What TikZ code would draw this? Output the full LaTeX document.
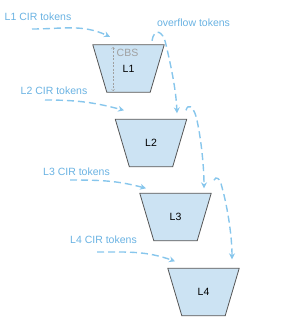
\documentclass[tikz,border=0pt]{standalone}
\usepackage{fontspec}
\setmainfont{Liberation Sans}
\usetikzlibrary{arrows.meta,calc}
\definecolor{arrowc}{RGB}{135,198,236}
\definecolor{textc}{RGB}{105,178,226}
\definecolor{fillc}{RGB}{204,227,243}
\definecolor{edgec}{RGB}{85,85,85}
\definecolor{cbsc}{RGB}{160,160,160}
\begin{document}
\begin{tikzpicture}[x=1pt,y=1pt,
  levelbox/.style={minimum width=71pt, minimum height=47pt, inner sep=0pt},
  trap/.style={draw=edgec, fill=fillc, line width=0.8pt, line join=miter},
  levtext/.style={font=\fontsize{10.5}{12}\selectfont, inner sep=0pt},
  lbl/.style={text=textc, font=\fontsize{10.5}{12}\selectfont, inner sep=0pt},
  flow/.style={draw=arrowc, line width=1.4pt, dash pattern=on 7pt off 4pt,
    -{Stealth[length=6pt,width=6pt,inset=2pt]}},
]
\useasboundingbox (0,0) rectangle (290,-329);

% level boxes (frames for the trapezoids)
\node[levelbox] (L1) at (128.5,-68.5) {};
\node[levelbox] (L2) at (151,-143) {};
\node[levelbox] (L3) at (175.5,-217) {};
\node[levelbox] (L4) at (203.5,-292) {};
\foreach \n in {L1,L2,L3,L4}{
  \draw[trap] (\n.north west) -- (\n.north east)
    -- ($(\n.south east)+(-14,0)$) -- ($(\n.south west)+(14,0)$) -- cycle;
}
\node[levtext] (L1t) at (L1.center) {L1};
\node[levtext] (L2t) at (L2.center) {L2};
\node[levtext] (L3t) at (L3.center) {L3};
\node[levtext] (L4t) at (L4.center) {L4};

% labels
\node[lbl] (c1) at (38,-17) {L1 CIR tokens};
\node[lbl] (c2) at (54,-91) {L2 CIR tokens};
\node[lbl] (c3) at (76.5,-172) {L3 CIR tokens};
\node[lbl] (c4) at (103.5,-240) {L4 CIR tokens};
\node[lbl] (ov) at (193.5,-23) {overflow tokens};

% CBS marker
\node[text=cbsc, font=\fontsize{10.5}{12}\selectfont, inner sep=0pt, anchor=west] (cbs) at (116.5,-53) {CBS};
\coordinate (cb1) at ($(L1.center)+(-15.5,21.5)$);
\coordinate (cb2) at ($(L1.center)+(-15.5,-22.5)$);
\draw[cbsc, line width=0.5pt, dash pattern=on 2pt off 1.5pt,
  {Straight Barb[length=1.5pt,width=3pt]}-{Straight Barb[length=1.5pt,width=3pt]}] (cb1) -- (cb2);

% CIR token arrows
\coordinate (s1) at (32,-29);
\coordinate (t1) at ($(L1.north)+(-18.5,8)$);
\coordinate (s2) at (45,-100);
\coordinate (t2) at ($(L2.north)+(-27,9)$);
\coordinate (s3) at (70,-180);
\coordinate (t3) at ($(L3.north)+(-29.5,5)$);
\coordinate (s4) at (97,-252);
\coordinate (t4) at ($(L4.north)+(-28.5,7)$);
\draw[flow] (s1) to[out=0,in=155] (t1);
\draw[flow] (s2) to[out=0,in=165] (t2);
\draw[flow] (s3) to[out=0,in=165] (t3);
\draw[flow] (s4) to[out=0,in=160] (t4);

% overflow arrows
\coordinate (o1s) at ($(L1.north)+(23.5,4)$);
\coordinate (o1t) at ($(L2.north)+(26,6)$);
\coordinate (o2s) at ($(L2.north)+(35,9)$);
\coordinate (o2t) at ($(L3.north)+(28.5,5)$);
\coordinate (o3s) at ($(L3.north)+(38.5,13)$);
\coordinate (o3t) at ($(L4.north)+(28.5,9)$);
\draw[flow] (o1s) .. controls +(2,13) and +(-3,15) .. ++(14,-4)
  .. controls +(4,-17) and +(-1,25) .. (o1t);
\draw[flow] (o2s) .. controls +(2,7) and +(-3,10) .. ++(10,-6)
  .. controls +(4,-15) and +(0,25) .. (o2t);
\draw[flow] (o3s) .. controls +(2,5) and +(-2,9) .. ++(8,-7)
  .. controls +(5,-18) and +(0,25) .. (o3t);
\end{tikzpicture}
\end{document}
